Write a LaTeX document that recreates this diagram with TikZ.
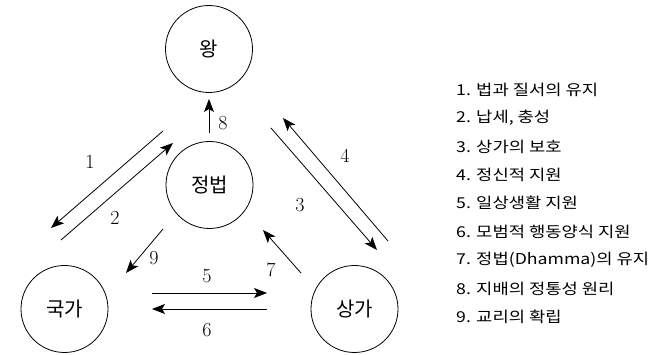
\documentclass[tikz,border=0pt]{standalone}
\usepackage{fontspec}
\newfontfamily\kr{Noto Sans CJK KR}
\newfontfamily\krw[FakeStretch=1.18]{Noto Sans CJK KR}
\usetikzlibrary{arrows.meta}
\begin{document}
\begin{tikzpicture}[x=1pt,y=-1pt,
  circ/.style={draw, circle, minimum size=87pt, inner sep=0pt, line width=0.8pt, font=\kr\fontsize{20}{20}\selectfont},
  arr/.style={-{Stealth[length=13pt,width=10pt,inset=3pt]}, line width=0.8pt},
  num/.style={font=\fontsize{20}{20}\selectfont, inner sep=0pt},
  leg/.style={anchor=west, inner sep=0pt, font=\krw\fontsize{15}{15}\selectfont}]
\useasboundingbox (0,0) rectangle (649,355);
% circles
\node[circ] (wang) at (209,49) {왕};
\node[circ] (jb) at (209.5,185) {정법};
\node[circ] (gk) at (64.5,309) {국가};
\node[circ] (sg) at (354.5,309) {상가};
% endpoints
\coordinate (a1s) at (163,131); \coordinate (a1e) at (51,228);
\coordinate (a2s) at (61,240);  \coordinate (a2e) at (173,143);
\coordinate (a3s) at (271,128); \coordinate (a3e) at (377,250);
\coordinate (a4s) at (388,241); \coordinate (a4e) at (283,118);
\coordinate (a5s) at (152,293); \coordinate (a5e) at (267,293);
\coordinate (a6s) at (267,309); \coordinate (a6e) at (152,309);
\coordinate (a7s) at (301,273); \coordinate (a7e) at (263,230);
\coordinate (a8s) at (209,133); \coordinate (a8e) at (209,99);
\coordinate (a9s) at (163,229); \coordinate (a9e) at (126,273);
\foreach \i in {1,...,9} {\draw[arr] (a\i s) -- (a\i e);}
% arrow labels
\node[num] (l1) at (90,162) {1};
\node[num] (l2) at (115,218) {2};
\node[num] (l3) at (300,205) {3};
\node[num] (l4) at (345,156) {4};
\node[num] (l5) at (207,276) {5};
\node[num] (l6) at (207,330) {6};
\node[num] (l7) at (271,270) {7};
\node[num] (l8) at (223,123) {8};
\node[num] (l9) at (154,258) {9};
% legend
\node[leg] (g1) at (456,89.5) {1. 법과 질서의 유지};
\node[leg] (g2) at (456,118) {2. 납세, 충성};
\node[leg] (g3) at (456,146.5) {3. 상가의 보호};
\node[leg] (g4) at (456,175) {4. 정신적 지원};
\node[leg] (g5) at (456,203) {5. 일상생활 지원};
\node[leg] (g6) at (456,231.5) {6. 모범적 행동양식 지원};
\node[leg] (g7) at (456,260) {7. 정법(Dhamma)의 유지};
\node[leg] (g8) at (456,288.5) {8. 지배의 정통성 원리};
\node[leg] (g9) at (456,317) {9. 교리의 확립};
\end{tikzpicture}
\end{document}
